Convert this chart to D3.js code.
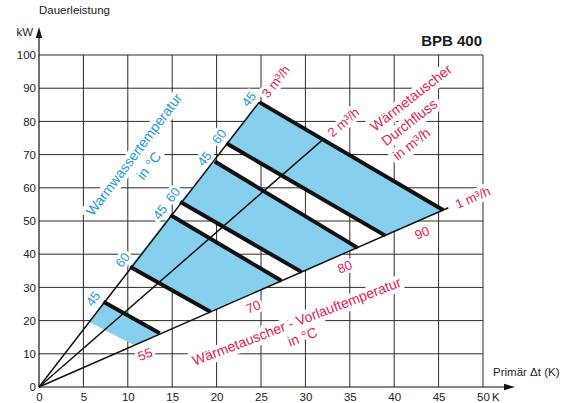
<!DOCTYPE html>
<html>
<head>
<meta charset="utf-8">
<script src="https://cdn.jsdelivr.net/npm/d3@7"></script>
<style>
  body { margin: 0; background: #fff; }
  svg { display: block; font-family: "Liberation Sans", Arial, Helvetica, sans-serif; }
</style>
</head>
<body>
<svg id="chart" width="571" height="403"></svg>
<script>
// ---- Axis ticks ----
const xTicks = [0, 5, 10, 15, 20, 25, 30, 35, 40, 45, 50];
const yTicks = [0, 10, 20, 30, 40, 50, 60, 70, 80, 90, 100];

// ---- Heat exchanger flow rays (from the origin) ----
const flowLabels = ["3 m³/h", "2 m³/h", "1 m³/h"];
const rayEndDt = [24.8, 32.0, 46.1];
const rayEndKw = [85.8, 74.6, 54.0];

// ---- Supply temperature bands: hot water 45 °C edge and 60 °C edge ----
const vorlaufTemps = [90, 80, 70, 55];
const ww45StartDt = [24.8, 19.8, 14.8, 7.25];
const ww45StartKw = [85.8, 67.9, 51.8, 25.7];
const ww45EndDt   = [45.5, 35.9, 27.3, 13.6];
const ww45EndKw   = [53.3, 41.9, 32.0, 16.2];
const ww60StartDt = [21.1, 15.9, 10.25, 5.65];
const ww60StartKw = [73.4, 55.8, 36.2, 19.6];
const ww60EndDt   = [39.0, 29.6, 19.3, 10.7];
const ww60EndKw   = [45.6, 34.6, 22.7, 12.6];
const ww60Drawn   = [true, true, true, false];
const wwLabels = ["45", "60"];

// ---- Colours ----
const BLUE_FILL = "#87cfee";
const BLUE_TEXT = "#1d9ad8";
const RED_TEXT = "#e31b55";
const INK = "#111";

const svg = d3.select("#chart");
const x = d3.scaleLinear().domain([0, 50]).range([39, 483]);
const y = d3.scaleLinear().domain([0, 100]).range([387, 55]);

const gGrid = svg.append("g");
const gHalo = svg.append("g");
const gBands = svg.append("g");
const gLines = svg.append("g");
const gText = svg.append("g");

// ---- Grid ----
gGrid.selectAll("line.v").data(xTicks.slice(1)).join("line")
  .attr("x1", d => x(d)).attr("x2", d => x(d))
  .attr("y1", y(0)).attr("y2", y(100))
  .attr("stroke", "#2a2a2a").attr("stroke-width", 1);
gGrid.selectAll("line.h").data(yTicks.slice(1)).join("line")
  .attr("x1", x(0)).attr("x2", x(50))
  .attr("y1", d => y(d)).attr("y2", d => y(d))
  .attr("stroke", "#2a2a2a").attr("stroke-width", 1);

// ---- Axes with arrows ----
const axes = svg.append("g");
axes.append("line").attr("x1", x(0)).attr("x2", 507).attr("y1", y(0)).attr("y2", y(0))
  .attr("stroke", INK).attr("stroke-width", 1.2);
axes.append("path").attr("d", `M515,${y(0)} L504,${y(0) - 3.2} L504,${y(0) + 3.2} Z`).attr("fill", INK);
axes.append("line").attr("x1", x(0)).attr("x2", x(0)).attr("y1", y(0)).attr("y2", 35)
  .attr("stroke", INK).attr("stroke-width", 1.2);
axes.append("path").attr("d", `M${x(0)},27 L${x(0) - 3.2},38 L${x(0) + 3.2},38 Z`).attr("fill", INK);

const xAxis = d3.axisBottom(x).tickValues(xTicks).tickSize(0).tickPadding(6);
const gx = svg.append("g").attr("transform", `translate(0,${y(0)})`).call(xAxis);
const yAxis = d3.axisLeft(y).tickValues(yTicks).tickSize(0).tickPadding(3);
const gy = svg.append("g").attr("transform", `translate(${x(0)},0)`).call(yAxis);
[gx, gy].forEach(g => {
  g.select(".domain").remove();
  g.selectAll("text").attr("font-size", 11.5).attr("fill", "#222")
    .attr("font-family", "'Liberation Sans', Arial, sans-serif");
});

svg.append("text").attr("x", x(50) + 9).attr("y", 401).attr("font-size", 11.5).attr("fill", "#222").text("K");
svg.append("text").attr("x", 39).attr("y", 14).attr("font-size", 11.5).attr("fill", "#222").text("Dauerleistung");
svg.append("text").attr("x", 33).attr("y", 36).attr("text-anchor", "end").attr("font-size", 11.5).attr("fill", "#222").text("kW");
svg.append("text").attr("x", 493).attr("y", 376).attr("font-size", 11.5).attr("fill", "#222").text("Primär Δt (K)");
svg.append("text").attr("x", 482).attr("y", 46).attr("text-anchor", "end")
  .attr("font-size", 15).attr("font-weight", "bold").attr("fill", "#1a1a1a").text("BPB 400");

// ---- Ray geometry ----
const rayAngle = i => Math.atan2(y(rayEndKw[i]) - y(0), x(rayEndDt[i]) - x(0)) * 180 / Math.PI;
const angA = rayAngle(0), angC = rayAngle(2);

// ---- Label helper: text drawn twice (white halo underneath, colour on top) ----
function label(tx, ty, rot, lines, opts) {
  const o = Object.assign({ size: 13.5, color: RED_TEXT, anchor: "middle", lh: 16, baseline: "central", halo: 8 }, opts);
  [gHalo, gText].forEach((layer, k) => {
    const t = layer.append("text")
      .attr("transform", `translate(${tx},${ty}) rotate(${rot})`)
      .attr("text-anchor", o.anchor)
      .attr("dominant-baseline", o.baseline)
      .attr("font-size", o.size)
      .attr("fill", k ? o.color : "#fff");
    if (!k) t.attr("stroke", "#fff").attr("stroke-width", o.halo).attr("stroke-linejoin", "round");
    const n = lines.length;
    lines.forEach((s, j) => {
      t.append("tspan").attr("x", o.dx || 0)
        .attr("y", (o.dy || 0) + (o.anchor === "start" ? j * o.lh : (j - (n - 1) / 2) * o.lh))
        .text(s);
    });
  });
}

// ---- Blue bands ----
vorlaufTemps.forEach((v, i) => {
  const pts = [
    [ww45StartDt[i], ww45StartKw[i]], [ww45EndDt[i], ww45EndKw[i]],
    [ww60EndDt[i], ww60EndKw[i]], [ww60StartDt[i], ww60StartKw[i]]
  ];
  gBands.append("path")
    .attr("d", d3.line().x(d => x(d[0])).y(d => y(d[1]))(pts) + "Z")
    .attr("fill", BLUE_FILL);
});

// ---- Flow rays ----
flowLabels.forEach((f, i) => {
  gLines.append("line")
    .attr("x1", x(0)).attr("y1", y(0))
    .attr("x2", x(rayEndDt[i])).attr("y2", y(rayEndKw[i]))
    .attr("stroke", INK).attr("stroke-width", 1.5);
});

// ---- Thick hot-water temperature lines ----
vorlaufTemps.forEach((v, i) => {
  gLines.append("line")
    .attr("x1", x(ww45StartDt[i])).attr("y1", y(ww45StartKw[i]))
    .attr("x2", x(ww45EndDt[i])).attr("y2", y(ww45EndKw[i]))
    .attr("stroke", INK).attr("stroke-width", 4);
  if (ww60Drawn[i]) {
    gLines.append("line")
      .attr("x1", x(ww60StartDt[i])).attr("y1", y(ww60StartKw[i]))
      .attr("x2", x(ww60EndDt[i])).attr("y2", y(ww60EndKw[i]))
      .attr("stroke", INK).attr("stroke-width", 4);
  }
});

// ---- Hot-water temperature labels along the steep ray ----
vorlaufTemps.forEach((v, i) => {
  label(x(ww45StartDt[i]), y(ww45StartKw[i]), angA, [wwLabels[0]],
    { color: BLUE_TEXT, dx: -4, dy: -10.5, size: 13, halo: 6 });
  if (ww60Drawn[i]) {
    label(x(ww60StartDt[i]), y(ww60StartKw[i]), angA, [wwLabels[1]],
      { color: BLUE_TEXT, dx: 1, dy: -10.5, size: 13, halo: 6 });
  }
});

// ---- Supply temperature labels below the shallow ray ----
const vorlaufLabelDt = [42.6, 33.9, 23.6, 11.4];
vorlaufTemps.forEach((v, i) => {
  const dt = vorlaufLabelDt[i];
  const kw = dt * rayEndKw[2] / rayEndDt[2];
  label(x(dt), y(kw), angC + 1.5, [String(v)], { dy: 12, size: 13, halo: 6 });
});

// ---- Flow labels beyond the ray ends ----
flowLabels.forEach((f, i) => {
  label(x(rayEndDt[i]), y(rayEndKw[i]), rayAngle(i), [f],
    { anchor: "start", dx: 8, dy: 0, size: 13, halo: 7 });
});

// ---- Titles of the three families ----
label(141.3, 159.9, -53, ["Warmwassertemperatur", "in °C"],
  { color: BLUE_TEXT, size: 14, lh: 18.5, halo: 9 });
label(375, 132, -38, ["Wärmetauscher", "Durchfluss", "in m³/h"],
  { anchor: "start", baseline: "auto", size: 14, lh: 18.4, halo: 9 });
label(299.5, 329, -21, ["Wärmetauscher - Vorlauftemperatur", "in °C"],
  { size: 14, lh: 16.5, halo: 9 });
</script>
</body>
</html>
